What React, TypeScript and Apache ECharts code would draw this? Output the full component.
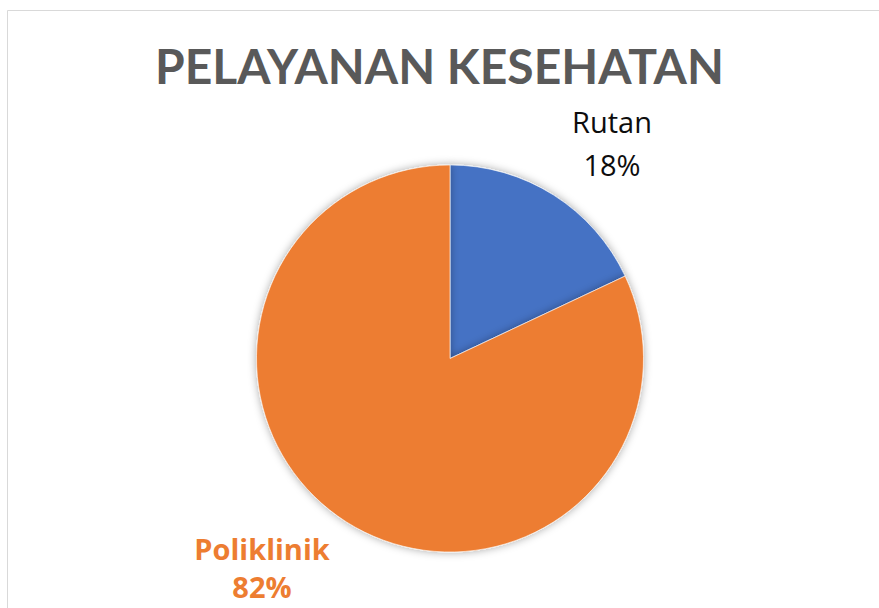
import React, { useEffect, useRef } from "react";
import * as echarts from "echarts";

const titleText = "PELAYANAN KESEHATAN";
const categories = ["Rutan", "Poliklinik"];
const values = [18, 82];
const colors = ["#4472C4", "#ED7D31"];

export default function App() {
  const ref = useRef<HTMLDivElement>(null);
  useEffect(() => {
    if (!ref.current) return;
    const chart = echarts.init(ref.current, null, { renderer: "svg" });
    const labelPos = [
      { x: 612, y: 143, lineHeight: 43, color: "#0D0D0D", fontWeight: "normal" },
      { x: 262, y: 567, lineHeight: 38, color: "#ED7D31", fontWeight: "bold" },
    ];
    chart.setOption({
      animation: false,
      backgroundColor: "#ffffff",
      title: {
        text: titleText,
        left: "center",
        top: 36,
        textStyle: {
          fontFamily: "Lato",
          fontWeight: "bold",
          fontSize: 48,
          color: "#595959",
        },
      },
      graphic: [
        {
          type: "rect",
          shape: { x: 7.5, y: 10.5, width: 950, height: 700 },
          style: { fill: "none", stroke: "#D9D9D9", lineWidth: 1 },
          silent: true,
        },
      ],
      series: [
        {
          type: "pie",
          center: [450, 358.5],
          radius: 193.5,
          startAngle: 90,
          clockwise: true,
          labelLine: { show: false },
          itemStyle: {
            borderColor: "#ffffff",
            borderWidth: 0.6,
            shadowBlur: 8,
            shadowColor: "rgba(0,0,0,0.35)",
          },
          label: {
            show: true,
            position: "outside",
            formatter: "{b}\n{d}%",
            fontFamily: "Open Sans",
            fontSize: 29,
            align: "center",
          },
          labelLayout: (params: any) => {
            const p = labelPos[params.dataIndex];
            return { x: p.x, y: p.y, align: "center", verticalAlign: "middle" };
          },
          data: categories.map((c, i) => ({
            name: c,
            value: values[i],
            itemStyle: { color: colors[i] },
            label: {
              color: labelPos[i].color,
              fontWeight: labelPos[i].fontWeight,
              lineHeight: labelPos[i].lineHeight,
            },
          })),
        },
      ],
    });
    return () => chart.dispose();
  }, []);
  return (
    <div
      ref={ref}
      style={{ position: "fixed", left: 0, top: 0, width: 879, height: 608 }}
    />
  );
}
